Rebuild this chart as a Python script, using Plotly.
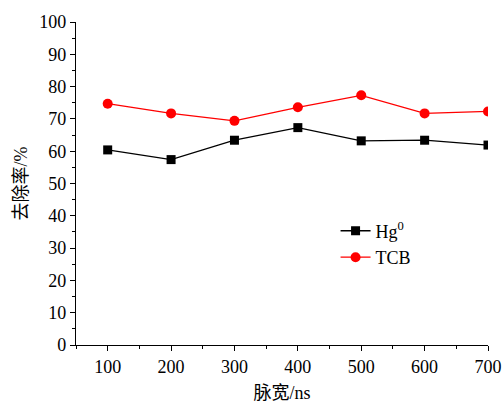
import plotly.graph_objects as go

pulse_width = [100, 200, 300, 400, 500, 600, 700]
hg0 = [60.4, 57.4, 63.4, 67.3, 63.2, 63.4, 61.9]
tcb = [74.7, 71.7, 69.4, 73.6, 77.3, 71.7, 72.3]

font_fam = "'Liberation Serif', 'Times New Roman', 'Noto Sans CJK SC', serif"

fig = go.Figure()
fig.add_trace(go.Scatter(x=pulse_width, y=hg0, mode="lines+markers", name="Hg<sup>0</sup>",
                         line=dict(color="black", width=1.3),
                         marker=dict(symbol="square", size=9, color="black")))
fig.add_trace(go.Scatter(x=pulse_width, y=tcb, mode="lines+markers", name="TCB",
                         line=dict(color="#ff0000", width=1.3),
                         marker=dict(symbol="circle", size=10, color="#ff0000")))

fig.update_layout(
    width=504, height=403,
    margin=dict(l=76, r=16, t=22, b=58, autoexpand=False),
    paper_bgcolor="white", plot_bgcolor="white",
    font=dict(family=font_fam, size=18, color="black"),
    showlegend=True,
    legend=dict(x=0.63, y=0.41, xanchor="left", yanchor="top",
                bgcolor="rgba(0,0,0,0)", font=dict(size=18), tracegroupgap=0),
)
fig.update_xaxes(range=[50, 700], tickvals=[100, 200, 300, 400, 500, 600, 700],
                 showline=True, linecolor="black", linewidth=1.2, mirror=False,
                 ticks="outside", ticklen=5, tickwidth=1, tickcolor="black",
                 minor=dict(tickvals=[50, 150, 250, 350, 450, 550, 650], ticks="outside", ticklen=3, tickcolor="black"),
                 showgrid=False, zeroline=False, automargin=False,
                 title=dict(text="脉宽/ns", font=dict(size=18), standoff=23))
fig.update_yaxes(range=[0, 100], dtick=10,
                 showline=True, linecolor="black", linewidth=1.2, mirror=False,
                 ticks="outside", ticklen=5, tickwidth=1, tickcolor="black",
                 minor=dict(dtick=5, ticks="outside", ticklen=3, tickcolor="black"),
                 showgrid=False, zeroline=False, automargin=False,
                 title=dict(text="去除率/%", font=dict(size=18), standoff=6))

fig.write_html("out.html", config={"displayModeBar": False},
               post_script="document.body.style.margin='0';")
